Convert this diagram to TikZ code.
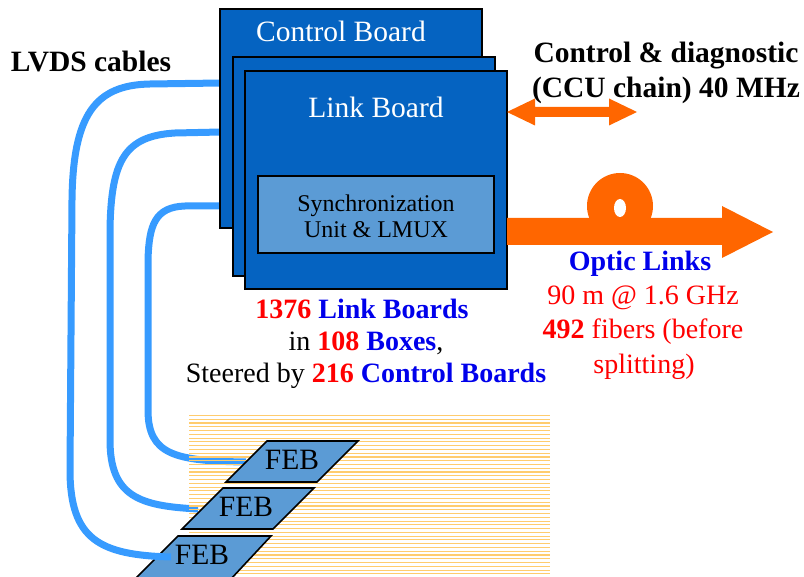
\documentclass[tikz,border=0pt]{standalone}
\usepackage{fontspec}
\setmainfont{Liberation Serif}
\definecolor{boardblue}{RGB}{5,99,193}
\definecolor{unitblue}{RGB}{91,155,213}
\definecolor{cableblue}{RGB}{55,155,255}
\definecolor{fiberorange}{RGB}{255,102,0}
\definecolor{hatchorange}{RGB}{255,204,110}
\definecolor{txtred}{RGB}{255,0,0}
\definecolor{txtblue}{RGB}{0,0,235}
\begin{document}
\begin{tikzpicture}[x=1pt,y=-1pt,
  board/.style={draw=black,line width=1.6pt,fill=boardblue,inner sep=0pt,outer sep=0pt,anchor=north west},
  unit/.style={draw=black,line width=1.6pt,fill=unitblue,inner sep=0pt,outer sep=0pt,anchor=north west},
  febbox/.style={draw=black,line width=1.6pt,fill=unitblue,line join=miter},
  cable/.style={draw=cableblue,line width=7pt},
  fiber/.style={fill=fiberorange},
  big/.style={font=\fontsize{28}{32}\selectfont,inner sep=0pt,align=center},
  large/.style={font=\fontsize{29.5}{34}\selectfont,inner sep=0pt,align=center},
  heavy/.style={font=\fontsize{29.5}{35}\selectfont\bfseries,inner sep=0pt,align=center},
  small/.style={font=\fontsize{24}{27}\selectfont,inner sep=0pt,align=center}]
\useasboundingbox (0,0) rectangle (804,577);

% cable end points at the boards and at the front-end boards
\coordinate (c1a) at (221,83);  \coordinate (c1b) at (171,557);
\coordinate (c2a) at (221,132); \coordinate (c2b) at (198,509);
\coordinate (c3a) at (221,206); \coordinate (c3b) at (246,462);

% inner LVDS cables
\draw[cable] (c2a) -- (175,133) .. controls (125,136) and (111,160) .. (110,230)
  -- (110,440) .. controls (110,497) and (140,506) .. (c2b);
\draw[cable] (c3a) -- (185,206) .. controls (155,207) and (149,225) .. (148,260)
  -- (148,410) .. controls (148,455) and (175,461) .. (c3b);

% striped background behind the front-end boards
\foreach \k in {0,...,43}
  \draw[hatchorange,line width=1.1pt] (189,{415.5+3.77*\k}) -- (550,{415.5+3.77*\k});

% front-end boards
\draw[febbox] (267,441) -- (358,441) -- (317,482) -- (226,482) -- cycle;
\node[large] (feb1) at (292,460) {FEB};
\draw[febbox] (223,488) -- (314,488) -- (273,529) -- (182,529) -- cycle;
\node[large] (feb2) at (246,507) {FEB};
\draw[febbox] (178,536) -- (271,536) -- (230,580) -- (134,580) -- cycle;
\node[large] (feb3) at (202,555) {FEB};

% outer LVDS cable
\draw[cable] (c1a) -- (150,84) .. controls (95,85) and (73,115) .. (72,200)
  -- (70,470) .. controls (70,540) and (100,555) .. (c1b);

% board stack
\node[board,minimum width=262pt,minimum height=219pt] (cb) at (220,9) {};
\node[large,text=white] (cbt) at (341,31) {Control Board};
\node[board,minimum width=262pt,minimum height=219pt] (mb) at (233,57) {};
\node[board,minimum width=262pt,minimum height=218pt] (lb) at (245,71) {};
\node[large,text=white] (lbt) at (376,107) {Link Board};
\node[unit,minimum width=236pt,minimum height=77pt] (su) at (258,176) {};
\node[small] (sut) at (376,216) {Synchronization\\[-1pt]Unit \& LMUX};

% control and diagnostic double arrow
\fill[fiber] (507,112) -- (535,98.5) -- (535,107) -- (609,107) -- (609,98.5)
  -- (637,112) -- (609,125.5) -- (609,117) -- (535,117) -- (535,125.5) -- cycle;

% optic link arrow with fibre loop
\fill[fiber] (507,218) -- (722,218) -- (722,206) -- (773,232) -- (722,258)
  -- (722,245) -- (507,245) -- cycle;
\fill[fiber] (620,206) circle[radius=33];
\fill[white] (620,208) ellipse[x radius=6,y radius=9];

% labels
\node[heavy] (lvds) at (91,61) {LVDS cables};
\node[heavy] (ccu) at (666,73) {Control \& diagnostic\\(CCU chain) 40 MHz};
\node[big,font=\fontsize{28}{32}\selectfont\bfseries,text=txtblue] (opt) at (640,264) {Optic Links};
\node[big,text=txtred] (rate) at (643,298) {90 m @ 1.6 GHz};
\node[big,text=txtred] (fib) at (643,332) {\textbf{492} fibers (before};
\node[big,text=txtred] (spl) at (644,367) {splitting)};
\node[big] (n1) at (362,309) {\textbf{\textcolor{txtred}{1376} \textcolor{txtblue}{Link Boards}}};
\node[big] (n2) at (366,343) {in \textbf{\textcolor{txtred}{108} \textcolor{txtblue}{Boxes}},};
\node[big] (n3) at (366,376) {Steered by \textbf{\textcolor{txtred}{216} \textcolor{txtblue}{Control Boards}}};
\end{tikzpicture}
\end{document}
